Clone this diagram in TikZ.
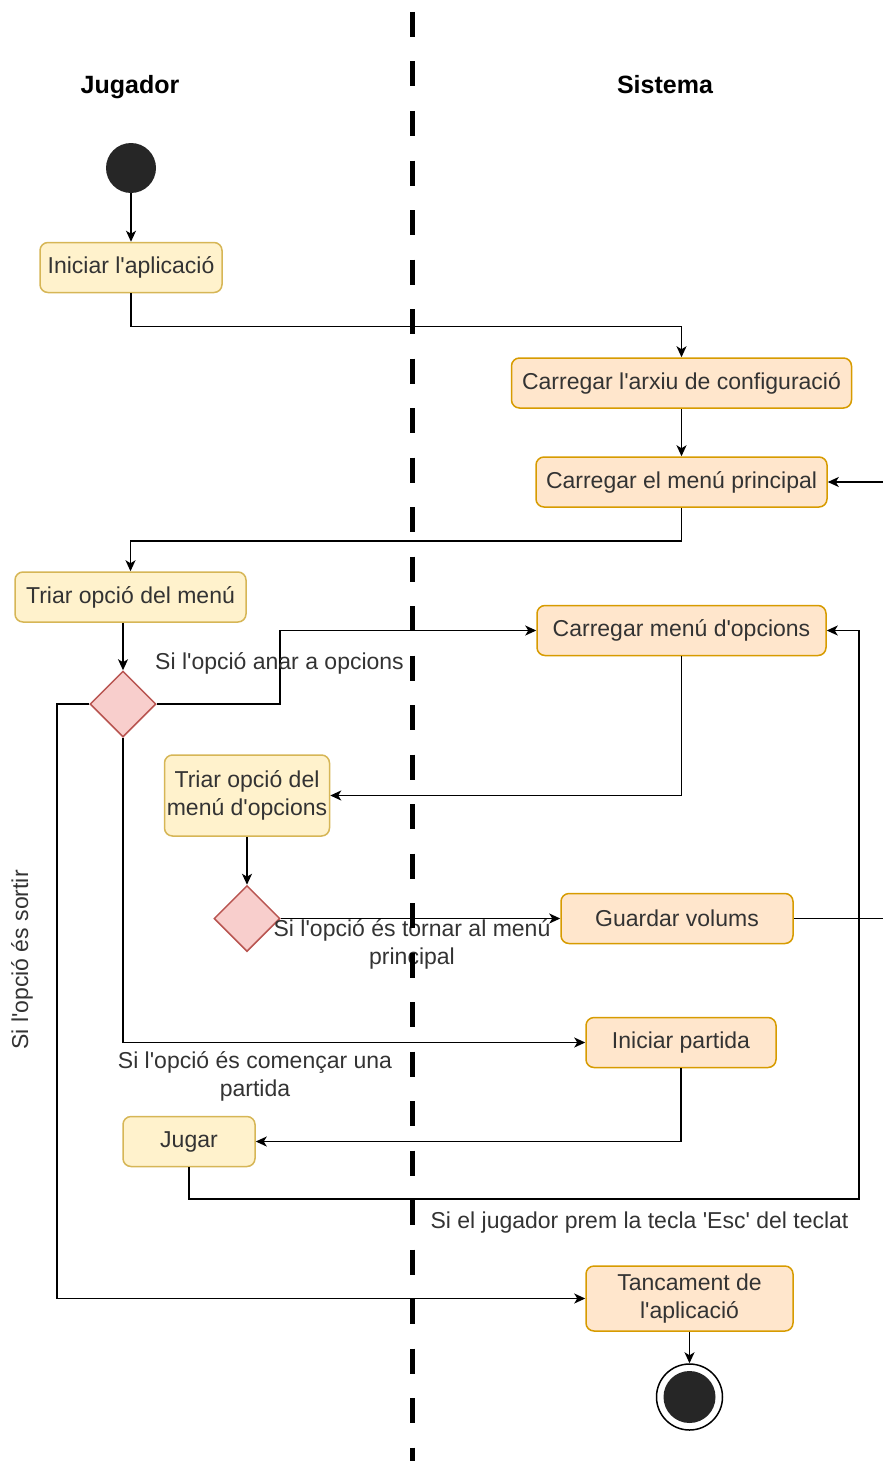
\documentclass[tikz,border=0pt]{standalone}
\usepackage{fontspec}
\setmainfont{Liberation Sans}
\usetikzlibrary{arrows.meta,shapes.geometric}
\definecolor{jfill}{HTML}{FFF2CC}
\definecolor{jdraw}{HTML}{D6B656}
\definecolor{sfill}{HTML}{FFE6CC}
\definecolor{sdraw}{HTML}{D79B00}
\definecolor{dfill}{HTML}{F8CECC}
\definecolor{ddraw}{HTML}{B85450}
\definecolor{dot}{HTML}{262626}
\definecolor{txt}{HTML}{333333}
\newcommand{\fsz}{\fontsize{23}{28}\selectfont}
\newcommand{\sq}{\textquotesingle}
\begin{document}
\begin{tikzpicture}[x=1pt,y=-1pt,
  actbase/.style={rounded corners=8pt, line width=1.5pt, text=txt, font=\fsz, align=center, inner sep=0pt, minimum height=50pt},
  actJ/.style={actbase, draw=jdraw, fill=jfill},
  actS/.style={actbase, draw=sdraw, fill=sfill},
  dec/.style={diamond, draw=ddraw, fill=dfill, line width=1.5pt, minimum width=66pt, minimum height=66pt, inner sep=0pt},
  lbl/.style={text=txt, font=\fsz, align=center, inner sep=0pt},
  hdr/.style={font=\bfseries\fontsize{25}{30}\selectfont, text=black, anchor=base},
  arr/.style={line width=1.5pt, -{Stealth[length=11pt,width=10pt,inset=3pt]}},
  ln/.style={line width=1.5pt},
  lane/.style={line width=5pt, dash pattern=on 25pt off 24.5pt}]
\useasboundingbox (0,0) rectangle (883,1461);

% headers
\node[hdr] (hj) at (130,94) {Jugador};
\node[hdr] (hs) at (665,94) {Sistema};

% nodes
\node[circle, fill=dot, minimum size=50pt, inner sep=0pt] (start) at (131,168) {};
\node[actJ, minimum width=182pt] (ini) at (131,267.5) {Iniciar l\sq aplicació};
\node[actS, minimum width=340pt] (conf) at (681.5,383) {Carregar l\sq arxiu de configuració};
\node[actS, minimum width=291pt] (menu) at (681.5,482) {Carregar el menú principal};
\node[actJ, minimum width=231pt] (triar) at (130.5,597) {Triar opció del menú};
\node[dec] (d1) at (123,704) {};
\node[actS, minimum width=289pt] (opc) at (681.5,630.5) {Carregar menú d\sq opcions};
\node[actJ, minimum width=165pt, minimum height=81pt] (triar2) at (247,795.5) {Triar opció del\\menú d\sq opcions};
\node[dec] (d2) at (247,918.5) {};
\node[actS, minimum width=232pt] (guard) at (677,918.5) {Guardar volums};
\node[actS, minimum width=190pt] (part) at (681,1042.5) {Iniciar partida};
\node[actJ, minimum width=132pt] (jugar) at (189,1141.5) {Jugar};
\node[actS, minimum width=207pt, minimum height=65pt] (tanc) at (689.5,1298.5) {Tancament de\\l\sq aplicació};
\node[circle, draw=black, line width=1.5pt, fill=white, minimum size=66pt, inner sep=0pt] (fin) at (689.5,1397) {};
\node[circle, fill=dot, minimum size=52pt, inner sep=0pt] (finin) at (fin.center) {};

\coordinate (eR1) at (883,482);
\coordinate (eR2) at (883,918.5);
\coordinate (k1) at (280,704);
\coordinate (k2) at (57,704);
\coordinate (k3) at (189,1199);
\coordinate (k4) at (859,630.5);

% connectors
\draw[arr] (start) -- (ini);
\draw[arr] (ini.south) -- ++(0,33) -| (conf.north);
\draw[arr] (conf) -- (menu);
\draw[arr] (eR1) -- (menu.east);
\draw[arr] (menu.south) -- ++(0,33) -| (triar.north);
\draw[arr] (triar.south -| d1.north) -- (d1.north);
\draw[arr] (d1.east) -- (k1) |- (opc.west);
\draw[arr] (d1.west) -- (k2) |- (tanc.west);
\draw[arr] (d1.south) |- (part.west);
\draw[arr] (opc.south) |- (triar2.east);
\draw[arr] (triar2.south) -- (d2.north);
\draw[arr] (d2.east) -- (guard.west);
\draw[ln] (guard.east) -- (eR2);
\draw[arr] (part.south) |- (jugar.east);
\draw[arr] (jugar.south) -- (k3) -| (k4) -- (opc.east);
\draw[arr] (tanc.south) -- (fin.north);

% labels
\node[lbl] (l1) at (279.5,663) {Si l\sq opció anar a opcions};
\node[lbl, rotate=90] (l2) at (22,960) {Si l\sq opció és sortir};
\node[lbl] (l3) at (255,1076) {Si l\sq opció és començar una\\partida};
\node[lbl] (l4) at (412,944) {Si l\sq opció és tornar al menú\\principal};
\node[lbl] (l5) at (639.5,1223) {Si el jugador prem la tecla \sq Esc\sq{} del teclat};

% lane divider
\coordinate (lt) at (412,12);
\coordinate (lb) at (412,1461);
\draw[lane] (lt) -- (lb);
\end{tikzpicture}
\end{document}
